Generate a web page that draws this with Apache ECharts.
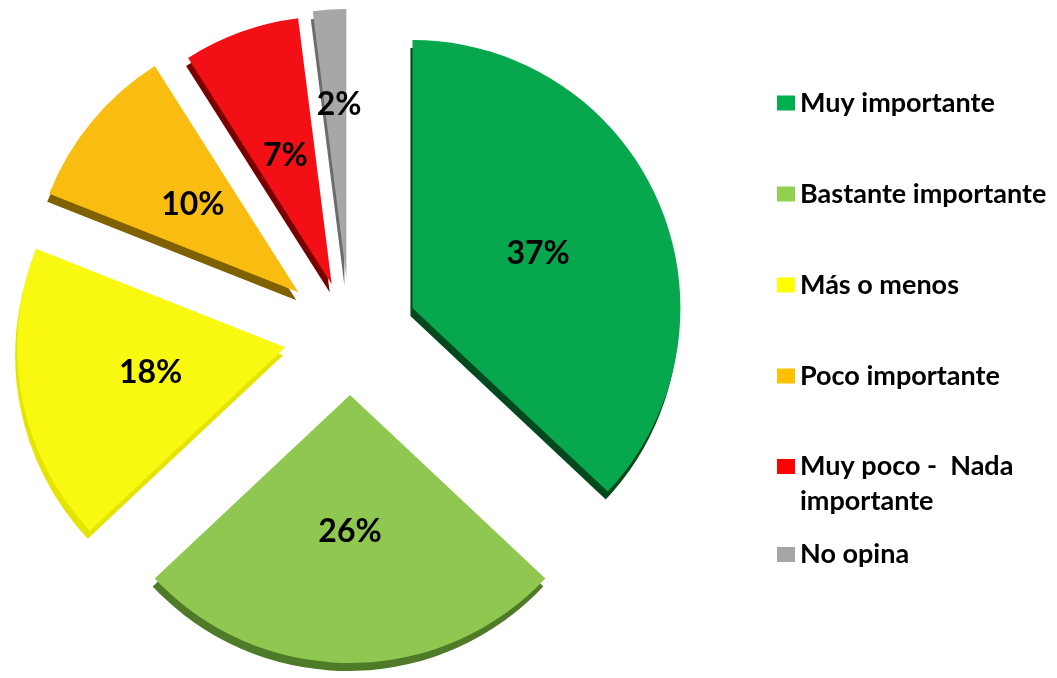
<!DOCTYPE html>
<html>
<head>
<meta charset="utf-8">
<script src="https://cdn.jsdelivr.net/npm/echarts@6/dist/echarts.min.js"></script>
<style>
  html, body { margin: 0; padding: 0; background: #ffffff; }
  #chart { width: 1057px; height: 678px; }
</style>
</head>
<body>
<div id="chart"></div>
<script>
// Response categories and their shares (%)
const categories = [
  'Muy importante',
  'Bastante importante',
  'Más o menos',
  'Poco importante',
  'Muy poco -  Nada importante',
  'No opina'
];
const shares = [37, 26, 18, 10, 7, 2];

// Styling: slice top faces, extruded sides, legend swatches
const topColors = ['#07a74e', '#8fc751', '#f8f810', '#f9bd12', '#f30f16', '#a7a7a7'];
const sideColors = ['#03491d', '#4f7a28', '#e4e400', '#806100', '#7a0000', '#6c6c6c'];
const legendColors = ['#00b050', '#92d050', '#ffff00', '#ffc000', '#ff0000', '#a6a6a6'];

// How far each slice is pulled out of the pie (px)
const explodeBy = [68, 60, 66, 67, 54, 58];

const FONT = 'Lato';
const pieCenter = [350, 335];
const pieRadius = 268;
const depth = [-2, 8]; // shift of the extruded side under each slice

const CLEAR = 'rgba(0,0,0,0)';

const labelFont = {
  formatter: '{c}%',
  fontFamily: FONT,
  fontWeight: 'bold',
  fontSize: 32,
  color: '#000000'
};

// The thinnest slice is too narrow to hold its label, so its label sits
// further out along the slice's mid-line instead.
function labelFor(i) {
  if (shares[i] < 5) {
    return Object.assign({ show: true, position: 'outside', alignTo: 'none', distanceToLabelLine: -26 }, labelFont);
  }
  return Object.assign({ show: true, position: 'inner' }, labelFont);
}

// One pie per slice so each slice gets its own explode distance;
// the other slices are laid out but left invisible.
function slicePie(i, isSide) {
  return {
    name: (isSide ? 'side-' : 'top-') + i,
    type: 'pie',
    z: isSide ? 1 : 2,
    center: isSide ? [pieCenter[0] + depth[0], pieCenter[1] + depth[1]] : pieCenter,
    radius: [0, pieRadius],
    startAngle: 90,
    clockwise: true,
    selectedMode: 'multiple',
    selectedOffset: explodeBy[i],
    avoidLabelOverlap: false,
    silent: true,
    itemStyle: { borderWidth: 0 },
    labelLine: { show: false, length: -95, length2: 0 },
    emphasis: { disabled: true },
    label: isSide ? { show: false } : labelFor(i),
    data: categories.map((name, j) => ({
      name: name,
      value: shares[j],
      selected: j === i,
      itemStyle: { color: j === i ? (isSide ? sideColors[j] : topColors[j]) : CLEAR },
      label: { show: !isSide && j === i }
    }))
  };
}

const series = [];
categories.forEach((_, i) => {
  series.push(slicePie(i, false));
  series.push(slicePie(i, true));
});

function legendItems(idx) {
  return idx.map(i => ({ name: categories[i], itemStyle: { color: legendColors[i], opacity: 1 } }));
}

const legendText = {
  fontFamily: FONT,
  fontWeight: 'bold',
  fontSize: 27,
  lineHeight: 35,
  color: '#000000'
};

const chart = echarts.init(document.getElementById('chart'), null, { renderer: 'canvas' });

chart.setOption({
  animation: false,
  backgroundColor: '#ffffff',
  legend: [
    {
      orient: 'vertical',
      left: 772,
      top: 80.5,
      icon: 'rect',
      itemWidth: 18,
      itemHeight: 15,
      itemGap: 56,
      selectedMode: false,
      textStyle: legendText,
      data: legendItems([0, 1, 2, 3])
    },
    {
      orient: 'vertical',
      left: 772,
      top: 409,
      icon: 'rect',
      itemWidth: 18,
      itemHeight: 15,
      itemGap: 18,
      selectedMode: false,
      textStyle: legendText,
      // the two-line entry keeps its swatch beside the first line
      formatter: name => name === categories[4] ? '\nMuy poco -  Nada\nimportante' : name,
      data: legendItems([4, 5])
    }
  ],
  series: series
});
</script>
</body>
</html>
